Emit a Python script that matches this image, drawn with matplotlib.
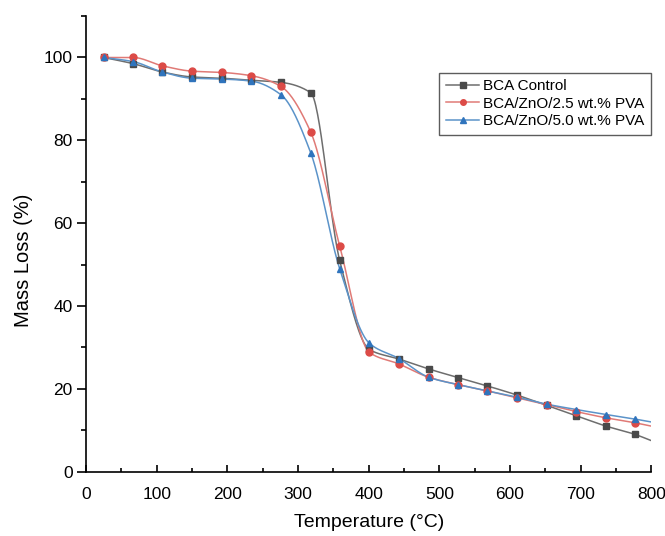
import numpy as np
import matplotlib.pyplot as plt

# temperature of the marked points (deg C)
temp = [25, 67, 108, 150, 192, 234, 276, 318, 359, 401, 443, 485, 527, 568, 610, 652, 694, 736, 777]
temp_end = 800

control = [100, 98.5, 96.5, 95.3, 95.0, 94.5, 94.0, 91.5, 51.0, 29.5, 27.2, 24.8, 22.7, 20.7, 18.5, 16.0, 13.5, 11.0, 9.0]
pva25 = [100, 100, 98.0, 96.7, 96.4, 95.6, 93.0, 82.0, 54.5, 28.8, 26.0, 22.8, 21.0, 19.5, 17.8, 16.2, 14.5, 13.0, 11.8]
pva50 = [100, 99.0, 96.5, 95.0, 94.8, 94.3, 91.0, 77.0, 49.0, 31.0, 27.3, 22.8, 21.0, 19.5, 18.0, 16.3, 15.0, 13.8, 12.7]
end_vals = [7.5, 11.0, 12.0]

labels = ['BCA Control', 'BCA/ZnO/2.5 wt.% PVA', 'BCA/ZnO/5.0 wt.% PVA']
line_colors = ['#6e6e6e', '#e07a76', '#5b93c9']
mark_colors = ['#4a4a4a', '#dc4b47', '#2f74bd']
markers = ['s', 'o', '^']

plt.rcParams['font.family'] = ['Liberation Sans', 'DejaVu Sans']


def pchip(x, y, xs):
    # monotone cubic curve through the points, only used to draw a smooth line
    x = np.asarray(x, float)
    y = np.asarray(y, float)
    h = np.diff(x)
    d = np.diff(y) / h
    m = np.zeros_like(y)
    for k in range(1, len(x) - 1):
        if d[k - 1] * d[k] > 0:
            w1 = 2 * h[k] + h[k - 1]
            w2 = h[k] + 2 * h[k - 1]
            m[k] = (w1 + w2) / (w1 / d[k - 1] + w2 / d[k])
    m[0] = d[0]
    m[-1] = d[-1]
    idx = np.clip(np.searchsorted(x, xs) - 1, 0, len(x) - 2)
    t = (xs - x[idx]) / h[idx]
    h00 = 2 * t**3 - 3 * t**2 + 1
    h10 = t**3 - 2 * t**2 + t
    h01 = -2 * t**3 + 3 * t**2
    h11 = t**3 - t**2
    return h00 * y[idx] + h10 * h[idx] * m[idx] + h01 * y[idx + 1] + h11 * h[idx] * m[idx + 1]


fig = plt.figure(figsize=(6.65, 5.36), dpi=100)
ax = fig.add_axes([0.1293, 0.12, 0.8501, 0.85])

for vals, end, lab, lc, mc, mk in zip([control, pva25, pva50], end_vals, labels,
                                      line_colors, mark_colors, markers):
    xx = temp + [temp_end]
    yy = vals + [end]
    xs = np.linspace(xx[0], xx[-1], 600)
    ax.plot(xs, pchip(xx, yy, xs), color=lc, lw=1.1, zorder=2)
    ax.plot(temp, vals, linestyle='none', marker=mk, ms=5, color=mc, zorder=3)
    ax.plot([], [], color=lc, lw=1.1, marker=mk, ms=4, mfc=mc, mec=mc, label=lab)

ax.set_xlim(0, 800)
ax.set_ylim(0, 110)
ax.set_xticks(range(0, 801, 100))
ax.set_xticks(range(50, 800, 100), minor=True)
ax.set_yticks(range(0, 101, 20))
ax.set_yticks(range(10, 111, 20), minor=True)
ax.spines['top'].set_visible(False)
ax.spines['right'].set_visible(False)
for s in ['left', 'bottom']:
    ax.spines[s].set_linewidth(1.2)
ax.tick_params(axis='x', which='both', direction='in', labelsize=12.5, width=1.2, pad=11)
ax.tick_params(axis='x', which='major', length=5)
ax.tick_params(axis='x', which='minor', length=3)
ax.tick_params(axis='y', which='both', direction='out', labelsize=12.5, width=1.2, pad=3)
ax.tick_params(axis='y', which='major', length=6.5)
ax.tick_params(axis='y', which='minor', length=3.5)

ax.set_xlabel('Temperature (°C)', fontsize=14, labelpad=9)
ax.set_ylabel('Mass Loss (%)', fontsize=14.5)
ax.yaxis.set_label_coords(-0.094, 0.465)

leg = ax.legend(loc='upper right', bbox_to_anchor=(1.0, 0.876), fontsize=11,
                frameon=True, fancybox=False, edgecolor='#333333',
                handlelength=2.2, labelspacing=0.22, borderpad=0.45,
                handletextpad=0.25, borderaxespad=0.0)
leg.get_frame().set_linewidth(1.0)

fig.savefig('out.png', dpi=100)
